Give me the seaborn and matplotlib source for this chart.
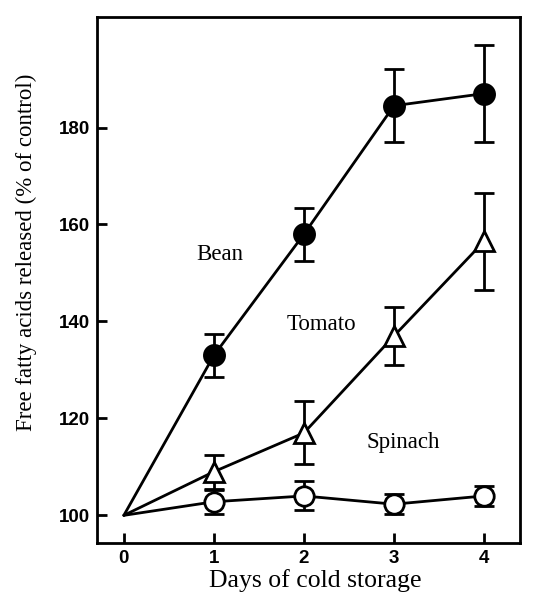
import numpy as np
import pandas as pd
import seaborn as sns
import matplotlib.pyplot as plt

days = [0, 1, 2, 3, 4]
bean = [100, 133, 158, 184.5, 187]
bean_err = [0, 4.5, 5.5, 7.5, 10]
tomato = [100, 109, 117, 137, 156.5]
tomato_err = [0, 3.5, 6.5, 6, 10]
spinach = [100, 102.8, 104, 102.3, 104]
spinach_err = [0, 2.5, 3, 2, 2]

sns.set_style("ticks", {'axes.edgecolor': 'black', 'text.color': 'black',
                        'xtick.color': 'black', 'ytick.color': 'black',
                        'axes.labelcolor': 'black'})
plt.rcParams['font.family'] = ['Liberation Serif', 'DejaVu Serif']

df = pd.DataFrame({
    'day': days * 3,
    'value': bean + tomato + spinach,
    'plant': ['Bean'] * 5 + ['Tomato'] * 5 + ['Spinach'] * 5,
})

fig = plt.figure(figsize=(5.35, 5.97), dpi=100)
ax = fig.add_axes([0.181, 0.0905, 0.791, 0.881])

sns.lineplot(data=df, x='day', y='value', units='plant', estimator=None,
             color='black', linewidth=2, ax=ax, legend=False)

# markers + error bars only for days 1-4
series = [(bean, bean_err, 'o', 'black', 14.5),
          (tomato, tomato_err, '^', 'white', 14.5),
          (spinach, spinach_err, 'o', 'white', 14)]
for vals, err, m, fc, ms in series:
    ax.errorbar(days[1:], vals[1:], yerr=err[1:], fmt=m, color='black',
                mfc=fc, mec='black', mew=2, ms=ms, ecolor='black',
                elinewidth=2, capsize=7.5, capthick=2.2, zorder=3)

ax.text(1.07, 153.8, 'Bean', fontsize=16.5, ha='center', va='center')
ax.text(2.19, 139.4, 'Tomato', fontsize=16.5, ha='center', va='center')
ax.text(3.1, 115, 'Spinach', fontsize=16.5, ha='center', va='center')

ax.set_xlim(-0.3, 4.4)
ax.set_ylim(94.3, 202.8)
ax.set_xticks([0, 1, 2, 3, 4])
ax.set_yticks([100, 120, 140, 160, 180])
ax.tick_params(direction='in', length=7, width=2, pad=5, colors='black')
for lab in ax.get_xticklabels() + ax.get_yticklabels():
    lab.set_family(['Liberation Sans', 'DejaVu Sans'])
    lab.set_fontweight('bold')
    lab.set_fontsize(13.5)

for sp in ax.spines.values():
    sp.set_visible(True)
    sp.set_linewidth(2)
    sp.set_color('black')

ax.set_xlabel('Days of cold storage', fontsize=18.5)
ax.set_ylabel('Free fatty acids released (% of control)', fontsize=16.5)
ax.xaxis.set_label_coords(0.515, -0.05)
ax.yaxis.set_label_coords(-0.142, 0.553)

fig.savefig('out.png', dpi=100)
